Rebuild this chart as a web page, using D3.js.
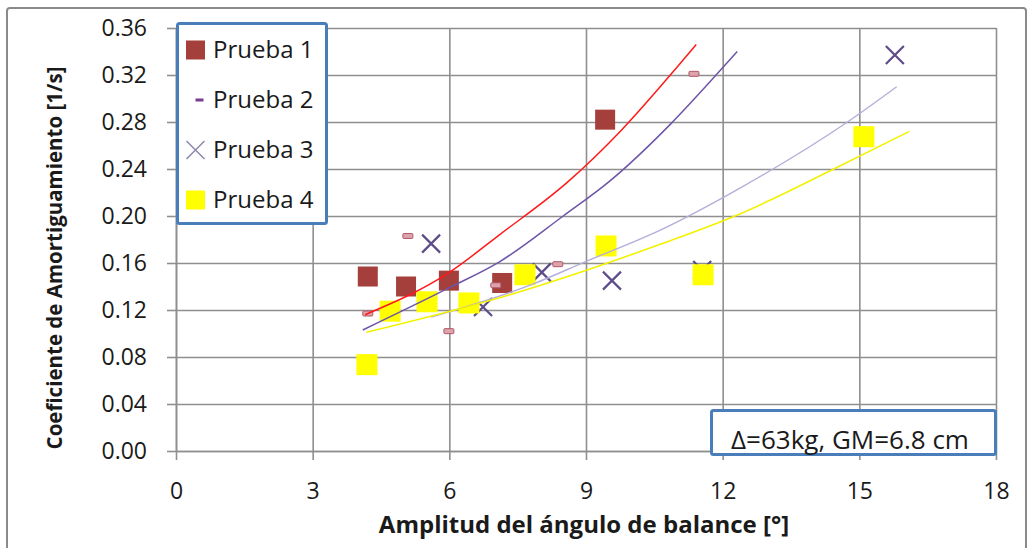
<!DOCTYPE html>
<html>
<head>
<meta charset="utf-8">
<script src="https://cdn.jsdelivr.net/npm/d3@7/dist/d3.min.js"></script>
<style>
  body { margin: 0; background: #fff; }
  text { font-family: "Open Sans", "Noto Sans", sans-serif; fill: #1a1a1a; }
</style>
</head>
<body>
<div id="chart"></div>
<script>
// Series: x = amplitude [deg], y = damping coeff [1/s]
var p1x = [4.21, 5.05, 5.99, 7.16, 9.42];
var p1y = [0.1485, 0.140, 0.145, 0.143, 0.282];

var p2x = [4.21, 5.09, 5.99, 7.02, 8.38, 11.37];
var p2y = [0.117, 0.183, 0.102, 0.141, 0.159, 0.321];

var p3x = [5.60, 6.74, 8.03, 9.57, 11.55, 15.78];
var p3y = [0.1765, 0.1225, 0.152, 0.145, 0.154, 0.337];

var p4x = [4.19, 4.70, 5.51, 6.43, 7.66, 9.44, 11.57, 15.10];
var p4y = [0.0735, 0.119, 0.127, 0.126, 0.150, 0.1745, 0.150, 0.2675];

// Trend lines, points
var t1x = [4.15, 6.0, 7.1, 8.6, 9.75, 10.85, 11.42];
var t1y = [0.116, 0.152, 0.184, 0.229, 0.272, 0.320, 0.346];
var t2x = [4.10, 6.0, 7.1, 8.5, 9.5, 10.85, 11.88, 12.32];
var t2y = [0.103, 0.139, 0.161, 0.200, 0.229, 0.278, 0.321, 0.340];
var t3x = [5.60, 7.83, 8.98, 10.63, 12.39, 14.74, 15.82];
var t3y = [0.114, 0.142, 0.161, 0.188, 0.224, 0.280, 0.310];
var t4x = [4.18, 7.33, 10.63, 12.39, 14.44, 16.10];
var t4y = [0.101, 0.133, 0.176, 0.202, 0.240, 0.272];

var seriesNames = ["Prueba 1", "Prueba 2", "Prueba 3", "Prueba 4"];
var xTicks = [0, 3, 6, 9, 12, 15, 18];
var yTicks = [0, 0.04, 0.08, 0.12, 0.16, 0.20, 0.24, 0.28, 0.32, 0.36];
var note = "Δ=63kg, GM=6.8 cm";

function zip(xs, ys) {
    return xs.map(function(x, i) { return {x: x, y: ys[i]}; });
}

var W = 1032, H = 548;
var margin = {left: 176, right: 36, top: 28, bottom: 97};
var width = W - margin.left - margin.right;
var height = H - margin.top - margin.bottom;

var svg = d3.select("#chart").append("svg")
    .attr("width", W)
    .attr("height", H);

// outer frame of the chart object
svg.append("rect")
    .attr("x", 7).attr("y", 8)
    .attr("width", 1019).attr("height", 560)
    .attr("rx", 3)
    .attr("fill", "none")
    .attr("stroke", "#8a8a8a")
    .attr("stroke-width", 2);

var chart = svg.append("g")
    .attr("transform", "translate(" + margin.left + "," + margin.top + ")");

var x = d3.scaleLinear().domain([0, 18]).range([0, width]);
var y = d3.scaleLinear().domain([0, 0.36]).range([height, 0]);

// gridlines
chart.append("g")
    .attr("class", "grid")
    .call(d3.axisLeft(y).tickValues(yTicks).tickSize(-width).tickFormat(""))
    .call(function(g) { g.select(".domain").remove(); });
chart.append("g")
    .attr("class", "grid")
    .attr("transform", "translate(0," + height + ")")
    .call(d3.axisBottom(x).tickValues(xTicks).tickSize(-height).tickFormat(""))
    .call(function(g) { g.select(".domain").remove(); });
chart.selectAll(".grid line")
    .attr("stroke", "#8f8f8f")
    .attr("stroke-width", 1.6);

// axes
var yAxis = chart.append("g")
    .call(d3.axisLeft(y).tickValues(yTicks).tickSize(9).tickSizeOuter(0)
        .tickPadding(20).tickFormat(d3.format(".2f")));
var xAxis = chart.append("g")
    .attr("transform", "translate(0," + height + ")")
    .call(d3.axisBottom(x).tickValues(xTicks).tickSize(9).tickSizeOuter(0)
        .tickPadding(23));
[yAxis, xAxis].forEach(function(a) {
    a.selectAll("line, path").attr("stroke", "#8f8f8f").attr("stroke-width", 1.6);
    a.selectAll("text")
        .style("font-size", "23px")
        .style("font-family", "'Open Sans', sans-serif")
        .attr("fill", "#1a1a1a");
});

// markers
var sq = 20;
chart.append("g").selectAll("rect")
    .data(zip(p1x, p1y)).enter().append("rect")
    .attr("x", function(d) { return x(d.x) - sq / 2; })
    .attr("y", function(d) { return y(d.y) - sq / 2; })
    .attr("width", sq).attr("height", sq)
    .attr("fill", "#A43F3B");

chart.append("g").selectAll("rect")
    .data(zip(p2x, p2y)).enter().append("rect")
    .attr("x", function(d) { return x(d.x) - 5; })
    .attr("y", function(d) { return y(d.y) - 2.5; })
    .attr("width", 10).attr("height", 5)
    .attr("rx", 1)
    .attr("fill", "#DDA3AA")
    .attr("stroke", "#B0586A")
    .attr("stroke-width", 1);

var xs = 9;
chart.append("g").selectAll("path")
    .data(zip(p3x, p3y)).enter().append("path")
    .attr("d", function(d) {
        var cx = x(d.x), cy = y(d.y);
        return "M" + (cx - xs) + "," + (cy - xs) + "L" + (cx + xs) + "," + (cy + xs) +
               "M" + (cx - xs) + "," + (cy + xs) + "L" + (cx + xs) + "," + (cy - xs);
    })
    .attr("stroke", "#5E4B8A")
    .attr("stroke-width", 2.2)
    .attr("fill", "none");

chart.append("g").selectAll("rect")
    .data(zip(p4x, p4y)).enter().append("rect")
    .attr("x", function(d) { return x(d.x) - 10.5; })
    .attr("y", function(d) { return y(d.y) - 10.5; })
    .attr("width", 21).attr("height", 21)
    .attr("fill", "#FFFF00");

// trend lines
var line = d3.line()
    .x(function(d) { return x(d.x); })
    .y(function(d) { return y(d.y); })
    .curve(d3.curveMonotoneX);

var trends = [
    {pts: zip(t1x, t1y), color: "#FF1A1A", w: 1.5},
    {pts: zip(t2x, t2y), color: "#6E55A8", w: 1.5},
    {pts: zip(t3x, t3y), color: "#B4AEDA", w: 1.4},
    {pts: zip(t4x, t4y), color: "#F2F200", w: 1.6}
];
chart.append("g").selectAll("path")
    .data(trends).enter().append("path")
    .attr("d", function(d) { return line(d.pts); })
    .attr("fill", "none")
    .attr("stroke", function(d) { return d.color; })
    .attr("stroke-width", function(d) { return d.w; });

// axis titles
svg.append("text")
    .attr("x", 584).attr("y", 533)
    .attr("text-anchor", "middle")
    .style("font-size", "24px")
    .style("font-weight", "bold")
    .text("Amplitud del ángulo de balance [°]");

svg.append("text")
    .attr("transform", "translate(62,258) rotate(-90)")
    .attr("text-anchor", "middle")
    .style("font-size", "20.5px")
    .style("font-weight", "bold")
    .text("Coeficiente de Amortiguamiento [1/s]");

// legend
var legend = svg.append("g");
legend.append("rect")
    .attr("x", 177.5).attr("y", 23.5)
    .attr("width", 149).attr("height", 200)
    .attr("rx", 2)
    .attr("fill", "#fff")
    .attr("stroke", "#4A7EBB")
    .attr("stroke-width", 3);

var rowY = d3.scalePoint().domain(seriesNames).range([50, 200]);
var lx = 195.5;
seriesNames.forEach(function(name, i) {
    var cy = rowY(name);
    var g = legend.append("g");
    if (i === 0) {
        g.append("rect").attr("x", lx - 9.5).attr("y", cy - 9.5)
            .attr("width", 19).attr("height", 19).attr("fill", "#A43F3B");
    } else if (i === 1) {
        g.append("rect").attr("x", lx).attr("y", cy - 1.5)
            .attr("width", 8).attr("height", 3).attr("fill", "#7A3C8E");
    } else if (i === 2) {
        g.append("path")
            .attr("d", "M" + (lx - 9) + "," + (cy - 9) + "L" + (lx + 9) + "," + (cy + 9) +
                       "M" + (lx - 9) + "," + (cy + 9) + "L" + (lx + 9) + "," + (cy - 9))
            .attr("stroke", "#8C87B0").attr("stroke-width", 1.5).attr("fill", "none");
    } else {
        g.append("rect").attr("x", lx - 9.5).attr("y", cy - 9.5)
            .attr("width", 19).attr("height", 19).attr("fill", "#FFFF00");
    }
    g.append("text")
        .attr("x", 213).attr("y", cy + 8)
        .style("font-size", "24px")
        .text(name);
});

// annotation box
svg.append("rect")
    .attr("x", 711.5).attr("y", 410.5)
    .attr("width", 284).attr("height", 44)
    .attr("rx", 2)
    .attr("fill", "#fff")
    .attr("stroke", "#4A7EBB")
    .attr("stroke-width", 3);
svg.append("text")
    .attr("x", 850).attr("y", 449)
    .attr("text-anchor", "middle")
    .style("font-size", "26px")
    .text(note);
</script>
</body>
</html>
